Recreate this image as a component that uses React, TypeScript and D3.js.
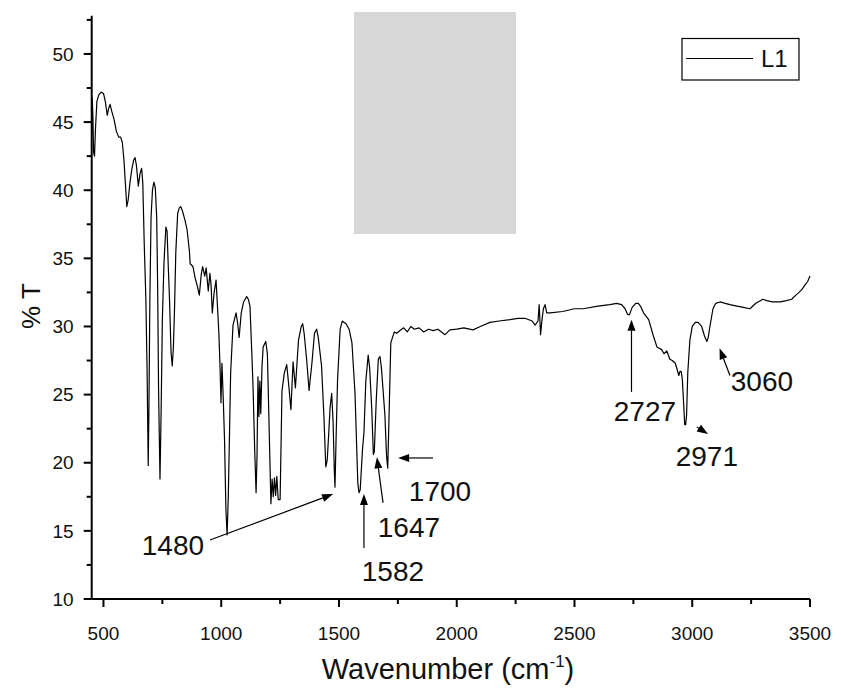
import React from 'react';
import * as d3 from 'd3';

const wavenumbers = [
  450, 452, 455, 458, 462, 466, 472, 480, 490, 500, 508, 516, 522, 528, 535, 545, 555, 565, 573, 580,
  587, 593, 599, 605, 612, 620, 628, 634, 640, 648, 655, 662, 667, 670, 673, 680, 685, 690, 693, 697,
  702, 708, 714, 720, 726, 730, 734, 740, 745, 750, 757, 765, 770, 775, 780, 787, 792, 797, 802, 807,
  815, 822, 828, 835, 846, 855, 865, 868, 880, 890, 898, 907, 915, 921, 930, 936, 945, 952, 957, 962,
  970, 978, 984, 990, 995, 999, 1003, 1008, 1014, 1020, 1025, 1030, 1035, 1040, 1050, 1063, 1070, 1076, 1085, 1095,
  1108, 1115, 1122, 1130, 1135, 1142, 1148, 1152, 1156, 1160, 1164, 1168, 1173, 1178, 1189, 1196, 1202, 1211, 1216, 1221,
  1226, 1231, 1236, 1242, 1250, 1258, 1268, 1278, 1285, 1296, 1305, 1315, 1328, 1340, 1346, 1352, 1363, 1373, 1385, 1396,
  1405, 1412, 1426, 1436, 1444, 1450, 1456, 1462, 1469, 1475, 1480, 1483, 1488, 1494, 1505, 1514, 1522, 1530, 1543, 1555,
  1568, 1580, 1585, 1590, 1600, 1606, 1614, 1624, 1630, 1639, 1646, 1650, 1658, 1667, 1674, 1680, 1695, 1702, 1707, 1712,
  1720, 1735, 1745, 1759, 1775, 1790, 1805, 1820, 1840, 1860, 1880, 1900, 1920, 1950, 1971, 2000, 2030, 2069, 2100, 2141,
  2180, 2226, 2260, 2290, 2320, 2333, 2345, 2350, 2356, 2362, 2368, 2375, 2382, 2396, 2450, 2500, 2537, 2600, 2650, 2679,
  2700, 2715, 2725, 2733, 2745, 2760, 2771, 2780, 2793, 2815, 2835, 2850, 2870, 2880, 2892, 2905, 2915, 2928, 2935, 2943,
  2948, 2953, 2958, 2963, 2968, 2972, 2976, 2981, 2990, 3000, 3013, 3025, 3040, 3052, 3062, 3068, 3075, 3088, 3100, 3118,
  3140, 3160, 3190, 3217, 3245, 3270, 3300, 3316, 3340, 3373, 3400, 3422, 3440, 3450, 3465, 3479, 3490, 3500,
];

const transmittance = [
  44.0, 46.8, 45.5, 42.8, 42.5, 44.5, 46.5, 47.0, 47.2, 47.1, 46.5, 45.5, 46.0, 46.3, 45.8, 45.2, 44.3, 43.9, 43.9, 43.5,
  42.2, 40.5, 38.8, 39.3, 40.5, 41.5, 42.2, 42.4, 41.8, 40.3, 41.2, 41.6, 40.5, 38.3, 36.1, 32.0, 27.0, 19.8, 24.0, 32.0,
  38.0, 40.0, 40.6, 40.2, 38.0, 33.0, 25.3, 18.8, 24.0, 30.5, 34.7, 37.3, 37.0, 34.5, 32.2, 28.1, 27.1, 28.5, 31.5, 35.4,
  38.3, 38.7, 38.8, 38.5, 37.8, 37.1, 35.5, 34.6, 34.4, 33.5, 33.0, 32.3, 33.8, 34.4, 33.7, 34.3, 32.6, 33.9, 33.0, 31.0,
  32.5, 33.4, 31.5, 29.5, 27.0, 24.4, 27.3, 25.0, 21.7, 16.5, 14.7, 17.5, 22.0, 26.6, 30.1, 31.0, 30.2, 29.2, 31.0, 31.8,
  32.2, 32.0, 31.5, 28.0, 25.6, 21.0, 17.8, 20.5, 26.3, 23.4, 26.0, 23.6, 27.0, 28.5, 28.9, 28.0, 23.6, 17.0, 18.8, 17.5,
  18.9, 17.6, 19.0, 17.3, 17.3, 25.3, 26.6, 27.2, 26.0, 23.9, 27.4, 25.5, 29.0, 30.0, 30.2, 29.5, 27.5, 25.3, 27.3, 29.5,
  29.8, 29.2, 27.1, 23.4, 19.7, 20.2, 22.0, 24.0, 25.1, 23.0, 19.5, 18.2, 22.0, 26.1, 29.8, 30.4, 30.3, 30.2, 29.8, 28.8,
  25.1, 18.5, 17.8, 18.0, 21.0, 22.2, 26.0, 27.9, 27.0, 24.0, 20.6, 20.8, 24.5, 27.6, 27.8, 27.0, 23.5, 20.5, 19.6, 23.0,
  28.8, 29.6, 29.5, 29.7, 29.9, 29.6, 30.0, 29.8, 29.9, 29.6, 29.8, 29.7, 29.8, 29.4, 29.75, 29.8, 29.9, 29.75, 30.0, 30.3,
  30.4, 30.5, 30.6, 30.6, 30.4, 30.1, 30.4, 31.6, 29.4, 30.5, 31.3, 31.6, 31.0, 31.0, 31.1, 31.3, 31.3, 31.5, 31.6, 31.7,
  31.6, 31.3, 30.9, 30.85, 31.4, 31.7, 31.7, 31.5, 31.0, 30.5, 29.3, 28.5, 28.3, 28.0, 28.2, 27.6, 27.5, 27.3, 26.9, 26.4,
  26.7, 26.7, 26.1, 24.5, 22.8, 22.8, 23.5, 26.6, 29.0, 30.0, 30.3, 30.3, 30.0, 29.3, 28.9, 29.2, 30.0, 31.3, 31.7, 31.8,
  31.7, 31.6, 31.5, 31.4, 31.3, 31.7, 32.0, 31.9, 31.8, 31.8, 31.9, 32.0, 32.3, 32.45, 32.7, 33.05, 33.3, 33.7,
];

const xMajorTicks = [500, 1000, 1500, 2000, 2500, 3000, 3500];
const xMinorTicks = [750, 1250, 1750, 2250, 2750, 3250];
const yMajorTicks = [10, 15, 20, 25, 30, 35, 40, 45, 50];
const yMinorTicks = [12.5, 17.5, 22.5, 27.5, 32.5, 37.5, 42.5, 47.5, 52.5];

const peakLabels = ['1480', '1582', '1647', '1700', '2727', '2971', '3060'];
const labelX = [795, 1729, 1797, 1929, 2799, 3062, 3296];
const labelY = [13.96, 12.05, 15.3, 17.9, 23.8, 20.5, 26.0];
const arrowTailX = [952, 1606, 1687, 1899, 2742, 3020, 3160];
const arrowTailY = [14.33, 13.74, 17.05, 20.35, 25.2, 22.62, 26.4];
const arrowTipX = [1475, 1606, 1661, 1751, 2742, 3067, 3116];
const arrowTipY = [17.7, 17.7, 20.4, 20.35, 30.5, 22.1, 28.4];

const seriesName = 'L1';

const FONT = '"Liberation Sans", Arial, sans-serif';

function Arrow({ x1, y1, x2, y2 }: { x1: number; y1: number; x2: number; y2: number }) {
  const dx = x2 - x1;
  const dy = y2 - y1;
  const len = Math.sqrt(dx * dx + dy * dy) || 1;
  const ux = dx / len;
  const uy = dy / len;
  const headLen = 11;
  const headW = 4;
  const bx = x2 - ux * headLen;
  const by = y2 - uy * headLen;
  const px = -uy * headW;
  const py = ux * headW;
  return (
    <g>
      <line x1={x1} y1={y1} x2={bx} y2={by} stroke="#000" strokeWidth={1.2} />
      <path d={`M${x2},${y2}L${bx + px},${by + py}L${bx - px},${by - py}Z`} fill="#000" />
    </g>
  );
}

export default function App() {
  const width = 841;
  const height = 696;
  const x = d3.scaleLinear().domain([450, 3500]).range([91.7, 810]);
  const y = d3.scaleLinear().domain([10, 52.8]).range([599, 15.8]);

  const data: [number, number][] = wavenumbers.map((w, i) => [w, transmittance[i]]);
  const line = d3
    .line<[number, number]>()
    .x((d) => x(d[0]))
    .y((d) => y(d[1]));

  const x0 = x(450);
  const y0 = y(10);

  return (
    <div style={{ position: 'absolute', left: 0, top: 0, width, height, background: '#fff' }}>
      <svg width={width} height={height} style={{ display: 'block' }}>
        <rect x={0} y={0} width={width} height={height} fill="#fff" />
        {/* gray overlay block */}
        <rect x={354} y={12} width={162} height={222} fill="#d7d7d7" />

        {/* spectrum */}
        <path d={line(data) || ''} fill="none" stroke="#000" strokeWidth={1.2} strokeLinejoin="round" />

        {/* axes */}
        <line x1={x0} y1={y0} x2={x(3500)} y2={y0} stroke="#000" strokeWidth={2} />
        <line x1={x0} y1={y0} x2={x0} y2={y(52.8)} stroke="#000" strokeWidth={2} />
        {xMajorTicks.map((t) => (
          <g key={'xt' + t}>
            <line x1={x(t)} x2={x(t)} y1={y0} y2={y0 + 8} stroke="#000" strokeWidth={2} />
            <text x={x(t)} y={y0 + 41} textAnchor="middle" fontSize={19} fontFamily={FONT} fill="#111">
              {t}
            </text>
          </g>
        ))}
        {xMinorTicks.map((t) => (
          <line key={'xm' + t} x1={x(t)} x2={x(t)} y1={y0} y2={y0 + 5} stroke="#000" strokeWidth={2} />
        ))}
        {yMajorTicks.map((t) => (
          <g key={'yt' + t}>
            <line x1={x0 - 8} x2={x0} y1={y(t)} y2={y(t)} stroke="#000" strokeWidth={2} />
            <text x={x0 - 18} y={y(t)} dy="0.35em" textAnchor="end" fontSize={19} fontFamily={FONT} fill="#111">
              {t}
            </text>
          </g>
        ))}
        {yMinorTicks.map((t) => (
          <line key={'ym' + t} x1={x0 - 5} x2={x0} y1={y(t)} y2={y(t)} stroke="#000" strokeWidth={2} />
        ))}

        {/* axis titles */}
        <text x={448} y={679} textAnchor="middle" fontSize={29} fontFamily={FONT} fill="#111">
          Wavenumber (cm
          <tspan fontSize={17} dy={-12}>-1</tspan>
          <tspan dy={12}>)</tspan>
        </text>
        <text
          transform={`translate(40,306) rotate(-90)`}
          textAnchor="middle"
          fontSize={26}
          fontFamily={FONT}
          fill="#111"
        >
          % T
        </text>

        {/* annotations */}
        {peakLabels.map((lab, i) => (
          <g key={'ann' + lab}>
            <Arrow x1={x(arrowTailX[i])} y1={y(arrowTailY[i])} x2={x(arrowTipX[i])} y2={y(arrowTipY[i])} />
            <text
              x={x(labelX[i])}
              y={y(labelY[i])}
              dy="0.35em"
              textAnchor="middle"
              fontSize={28}
              fontFamily={FONT}
              fill="#111"
            >
              {lab}
            </text>
          </g>
        ))}

        {/* legend */}
        <rect x={682} y={38.5} width={117} height={41.5} fill="#fff" stroke="#000" strokeWidth={1.2} />
        <line x1={686} x2={753} y1={58.5} y2={58.5} stroke="#000" strokeWidth={1.2} />
        <text x={761} y={58.5} dy="0.35em" fontSize={24} fontFamily={FONT} fill="#111">
          {seriesName}
        </text>
      </svg>
    </div>
  );
}
